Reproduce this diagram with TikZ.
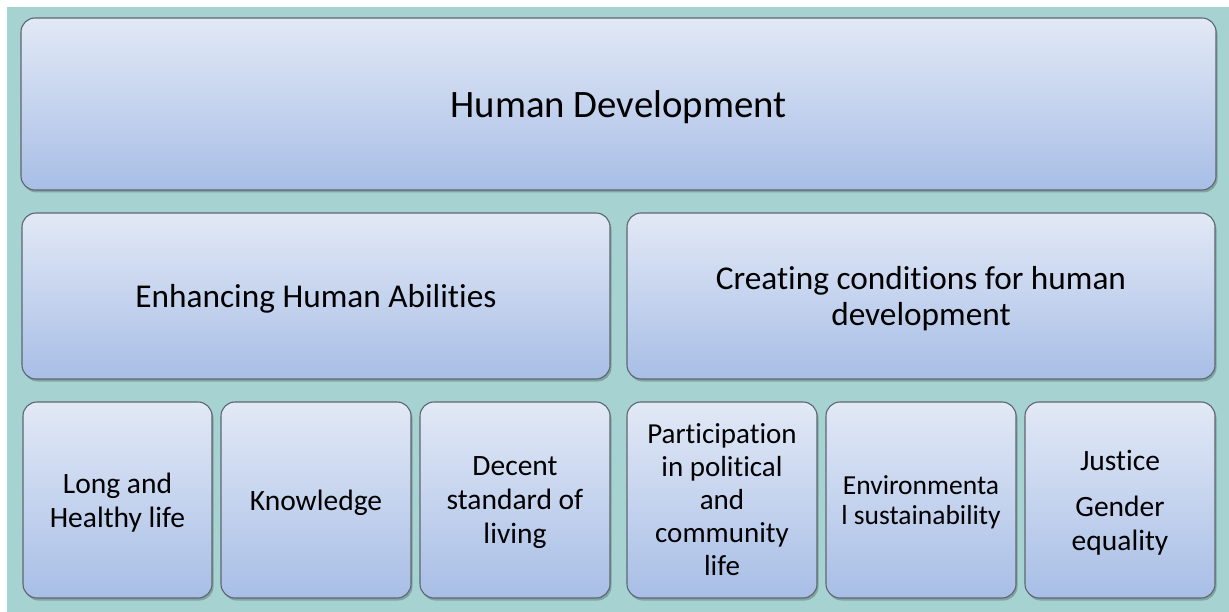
\documentclass[tikz,border=0pt]{standalone}
\usepackage{fontspec}
\setmainfont{Carlito}[Ligatures=NoCommon]
\usetikzlibrary{shadows}
\definecolor{bgteal}{HTML}{A6D2D2}
\definecolor{boxtop}{HTML}{E2E9F6}
\definecolor{boxbot}{HTML}{A8BEE6}
\definecolor{boxline}{HTML}{5E6670}
\tikzset{
  hbox/.style={draw=boxline, line width=1.1pt, rounded corners=14pt,
    top color=boxtop, bottom color=boxbot, align=center, inner sep=0pt,
    text=black, text depth=0pt,
    drop shadow={shadow xshift=1.5pt, shadow yshift=-2.5pt, fill=black, opacity=0.22}},
  topbox/.style={hbox, minimum width=1195pt, minimum height=172pt, font=\fontsize{38.8}{46}\selectfont},
  midbox/.style={hbox, minimum width=588pt, minimum height=166pt, font=\fontsize{33.3}{36}\selectfont},
  lowbox/.style={hbox, minimum width=190pt, minimum height=196pt, font=\fontsize{29.5}{34}\selectfont},
}
\begin{document}
\begin{tikzpicture}[x=1pt,y=-1pt]
\useasboundingbox (0,0) rectangle (1229,612);
\fill[white] (0,0) rectangle (1229,612);
\fill[bgteal] (7,7) rectangle (1229,612);

\node[topbox] (hd) at (618.5,104) {Human Development};
\node[midbox] (eha) at (316,296) {Enhancing Human Abilities};
\node[midbox] (cch) at (921,296) {Creating conditions for human\\development};

\node[lowbox, minimum width=189pt] (lhl) at (117.5,500) {Long and\\Healthy life};
\node[lowbox] (kn) at (316,500) {Knowledge};
\node[lowbox] (dsl) at (515,500) {Decent\\standard of\\living};
\node[lowbox, font=\fontsize{29}{33}\selectfont] (ppc) at (722,500) {Participation\\in political\\and\\community\\life};
\node[lowbox, font=\fontsize{27.5}{30}\selectfont] (env) at (921,500) {Environmenta\\l sustainability};
\node[lowbox] (jge) at (1120,500) {Justice\\[12pt]Gender\\equality};
\end{tikzpicture}
\end{document}
